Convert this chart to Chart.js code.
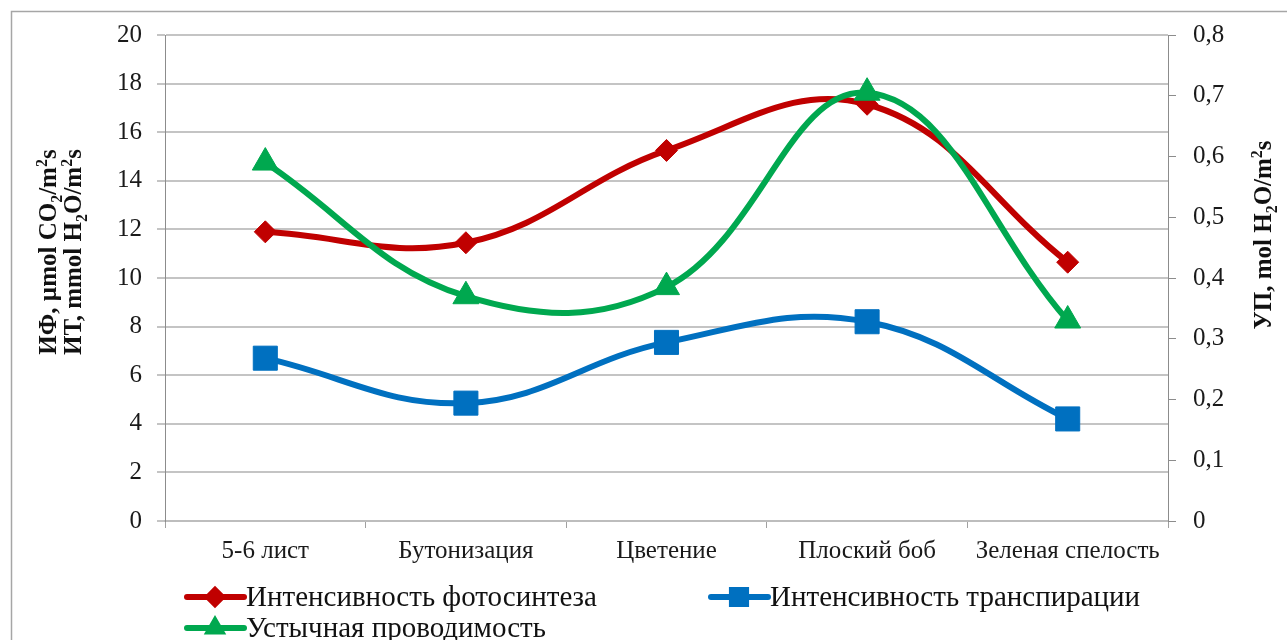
<!DOCTYPE html>
<html>
<head>
<meta charset="utf-8">
<script src="https://cdn.jsdelivr.net/npm/chart.js@4.4.1/dist/chart.umd.min.js"></script>
<style>
  html, body { margin: 0; padding: 0; background: #ffffff; }
  #wrap { position: relative; width: 1287px; height: 640px; }
  canvas { display: block; }
</style>
</head>
<body>
<div id="wrap"><canvas id="chart" width="1287" height="640"></canvas></div>
<script>
// Growth stages (x categories)
const stages = ['5-6 лист', 'Бутонизация', 'Цветение', 'Плоский боб', 'Зеленая спелость'];

// Left axis series: photosynthesis (µmol CO2/m²s) and transpiration (mmol H2O/m²s)
const photosynthesis = [11.9, 11.45, 15.25, 17.15, 10.65];
const transpiration = [6.7, 4.85, 7.35, 8.2, 4.2];

// Right axis series: stomatal conductance (mol H2O/m²s)
const conductance = [0.59, 0.37, 0.385, 0.705, 0.33];

// Axis ranges
const leftAxis = { min: 0, max: 20, step: 2 };
const rightAxis = { min: 0, max: 0.8, step: 0.1 };

// Legend captions
const seriesNames = ['Интенсивность фотосинтеза', 'Интенсивность транспирации', 'Устычная проводимость'];

const RED = '#c00000';
const BLUE = '#0070c0';
const GREEN = '#00a84f';
const SERIF = '"Liberation Serif", "Times New Roman", serif';

// Draws a line of text with sub/superscript runs, centred horizontally on x
function drawRich(ctx, parts, x, y, size, weight) {
  const small = Math.round(size * 0.65);
  const fontFor = p => `${weight} ${p.sub || p.sup ? small : size}px ${SERIF}`;
  let total = 0;
  parts.forEach(p => { ctx.font = fontFor(p); total += ctx.measureText(p.t).width; });
  let cx = x - total / 2;
  ctx.textAlign = 'left';
  ctx.textBaseline = 'alphabetic';
  parts.forEach(p => {
    ctx.font = fontFor(p);
    const dy = p.sub ? size * 0.22 : (p.sup ? -size * 0.38 : 0);
    ctx.fillText(p.t, cx, y + dy);
    cx += ctx.measureText(p.t).width;
  });
}

const frameAndTitles = {
  id: 'frameAndTitles',
  beforeDraw(chart) {
    const ctx = chart.ctx;
    ctx.save();
    ctx.fillStyle = '#ffffff';
    ctx.fillRect(0, 0, chart.width, chart.height);
    ctx.strokeStyle = '#a6a6a6';
    ctx.lineWidth = 1.5;
    ctx.strokeRect(11.5, 11.5, chart.width + 20, chart.height + 20);
    ctx.restore();
  },
  afterDraw(chart) {
    const ctx = chart.ctx;
    ctx.save();
    ctx.fillStyle = '#111111';
    // axis titles, rotated to read bottom-to-top
    ctx.save();
    ctx.rotate(-Math.PI / 2);
    drawRich(ctx, [{t: 'ИФ, µmol CO'}, {t: '2', sub: true}, {t: '/m'}, {t: '2', sup: true}, {t: 's'}], -252, 56, 25, 'bold');
    drawRich(ctx, [{t: 'ИТ, mmol H'}, {t: '2', sub: true}, {t: 'O/m'}, {t: '2', sup: true}, {t: 's'}], -252, 81, 25, 'bold');
    drawRich(ctx, [{t: 'УП, mol H'}, {t: '2', sub: true}, {t: 'O/m'}, {t: '2', sup: true}, {t: 's'}], -235, 1271, 25, 'bold');
    ctx.restore();

    // legend
    const items = [
      { name: seriesNames[0], color: RED, style: 'rectRot', r: 7, x: 187, y: 597 },
      { name: seriesNames[1], color: BLUE, style: 'rect', r: 10, x: 711, y: 597 },
      { name: seriesNames[2], color: GREEN, style: 'triangle', r: 7, x: 187, y: 628 }
    ];
    items.forEach(it => {
      ctx.strokeStyle = it.color;
      ctx.lineWidth = 6;
      ctx.lineCap = 'round';
      ctx.beginPath();
      ctx.moveTo(it.x, it.y);
      ctx.lineTo(it.x + 57, it.y);
      ctx.stroke();
      ctx.fillStyle = it.color;
      Chart.helpers.drawPoint(ctx, { pointStyle: it.style, radius: it.r, rotation: 0, borderWidth: 1 }, it.x + 28, it.y);
      ctx.fill();
      ctx.fillStyle = '#111111';
      ctx.font = `29px ${SERIF}`;
      ctx.textAlign = 'left';
      ctx.textBaseline = 'middle';
      ctx.fillText(it.name, it.x + 59, it.y + 1);
    });
    ctx.restore();
  }
};

const tickFont = { family: SERIF, size: 25 };

new Chart(document.getElementById('chart'), {
  type: 'line',
  data: {
    labels: stages,
    datasets: [
      {
        label: seriesNames[0], data: photosynthesis, yAxisID: 'y', order: 3,
        borderColor: RED, backgroundColor: RED, borderWidth: 6,
        pointStyle: 'rectRot', pointRadius: 11, pointBorderWidth: 1, tension: 0.4
      },
      {
        label: seriesNames[1], data: transpiration, yAxisID: 'y', order: 2,
        borderColor: BLUE, backgroundColor: BLUE, borderWidth: 6,
        pointStyle: 'rect', pointRadius: 17, pointBorderWidth: 1, tension: 0.4
      },
      {
        label: seriesNames[2], data: conductance, yAxisID: 'y1', order: 1,
        borderColor: GREEN, backgroundColor: GREEN, borderWidth: 6,
        pointStyle: 'triangle', pointRadius: 15, pointBorderWidth: 1, tension: 0.4
      }
    ]
  },
  options: {
    responsive: false,
    animation: false,
    events: [],
    layout: { padding: { top: 35, left: 0, right: 0, bottom: 0 } },
    plugins: { legend: { display: false }, tooltip: { enabled: false }, title: { display: false } },
    scales: {
      x: {
        offset: true,
        grid: { offset: true, drawOnChartArea: false, tickLength: 7, color: '#a0a0a0', lineWidth: 1 },
        border: { display: true, color: '#bdbdbd', width: 2 },
        ticks: { font: tickFont, color: '#1a1a1a', padding: 8, maxRotation: 0, autoSkip: false },
        afterFit(scale) { scale.height = 119; }
      },
      y: {
        position: 'left',
        min: leftAxis.min, max: leftAxis.max,
        grid: { color: '#c4c4c4', lineWidth: 2, tickLength: 8 },
        border: { display: true, color: '#8c8c8c', width: 1 },
        ticks: { stepSize: leftAxis.step, font: tickFont, color: '#1a1a1a', padding: 15 },
        afterFit(scale) { scale.width = 165; }
      },
      y1: {
        position: 'right',
        min: rightAxis.min, max: rightAxis.max,
        grid: { drawOnChartArea: false, tickLength: 8, color: '#8c8c8c', lineWidth: 1 },
        border: { display: true, color: '#8c8c8c', width: 1 },
        ticks: {
          stepSize: rightAxis.step, font: tickFont, color: '#1a1a1a', padding: 17,
          callback: v => (Math.round(v * 10) / 10).toString().replace('.', ',')
        },
        afterFit(scale) { scale.width = 119; }
      }
    }
  },
  plugins: [frameAndTitles]
});
</script>
</body>
</html>
